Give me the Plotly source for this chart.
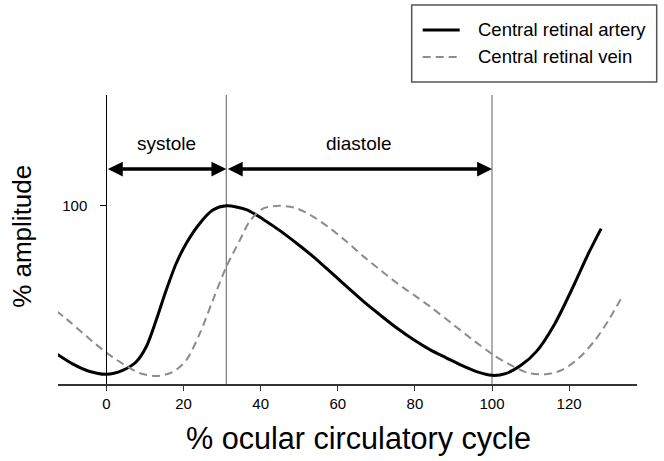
import plotly.graph_objects as go

# ---- data ----
artery_x = [-13, -8.9, -4.5, 0, 4.2, 7.7, 10.3, 12.9, 15.5, 18.1, 20.7, 24.2, 27.6, 31.1,
            36.3, 40.7, 45, 49.4, 53.7, 58.1, 62.4, 66.8, 71.1, 75.5, 80, 84, 88, 92, 96,
            100, 103.5, 107.5, 111.5, 116.3, 120.6, 125, 128.3]
artery_y = [12.8, 6.9, 2.4, 0.6, 3, 7.9, 16.7, 32.5, 50.2, 66, 77.8, 89.6, 97.5, 100,
            97.8, 92, 85.4, 77.8, 69.9, 61, 52.2, 43.3, 35.4, 27.6, 20.5, 15, 10.5, 6, 2.2,
            0, 1, 5.9, 14, 30.5, 50.2, 71.9, 86.6]

vein_x = [-13, -8.9, -4.5, 0, 4.2, 8.5, 12.9, 17.2, 20.7, 24.2, 27.6, 31.1, 34.6, 37.2,
          40.7, 45, 49.4, 53.7, 58.1, 62.4, 66.8, 71.1, 75.5, 79.8, 84.1, 90.2, 94.6,
          100.5, 105, 109.4, 113.7, 118, 122.4, 126.7, 130.2, 133.7]
vein_y = [38, 30.5, 21.7, 13.4, 6.9, 1.4, -0.4, 2, 8.9, 24.6, 44.3, 64, 79.7, 91,
          98.5, 100, 98.5, 93.5, 86.6, 78.7, 69.9, 62, 54.2, 47.3, 40.3, 29.5, 21.7,
          11.8, 5.9, 1.4, 0.6, 3, 9.9, 20.7, 32.5, 46.2]

series_names = ["Central retinal artery", "Central retinal vein"]
phase_bounds = [0, 31.1, 100]          # start of systole, end of systole, end of diastole
phase_labels = ["systole", "diastole"]
x_ticks = [0, 20, 40, 60, 80, 100, 120]
y_ticks = [100]
x_title = "% ocular circulatory cycle"
y_title = "% amplitude"

x_range = [-12.55, 137.6]
y_range = [-5.1, 165.4]
arrow_y = 121.7
label_y = 137

FONT = "Arial, Liberation Sans, sans-serif"
ARTERY_LINE = dict(color="black", width=3)
VEIN_LINE = dict(color="#8c8c8c", width=2, dash="8px,5px")

# plot-area geometry in pixels (used only to place legend box and titles)
W, H = 664, 461
ML, MR, MT, MB = 58.3, 26.7, 95, 77.3
PW, PH = W - ML - MR, H - MT - MB


def px(xp):
    return (xp - ML) / PW


def py(yp):
    return (H - MB - yp) / PH


fig = go.Figure()
fig.add_trace(go.Scatter(x=artery_x, y=artery_y, mode="lines", name=series_names[0],
                         line=dict(**ARTERY_LINE, shape="spline", smoothing=0.8)))
fig.add_trace(go.Scatter(x=vein_x, y=vein_y, mode="lines", name=series_names[1],
                         line=dict(**VEIN_LINE, shape="spline", smoothing=0.8)))

# gray phase boundary lines
for xb in phase_bounds[1:]:
    fig.add_shape(type="line", x0=xb, x1=xb, y0=y_range[0], y1=y_range[1],
                  xref="x", yref="y", line=dict(color="#7a7a7a", width=1.2), layer="below")

# double-headed arrows and phase labels
for i, lab in enumerate(phase_labels):
    x0, x1 = phase_bounds[i], phase_bounds[i + 1]
    fig.add_annotation(x=x1, y=arrow_y, ax=x0, ay=arrow_y, xref="x", yref="y",
                       axref="x", ayref="y", text="", showarrow=True,
                       arrowhead=2, startarrowhead=2, arrowside="end+start",
                       arrowwidth=3.5, arrowsize=0.85, startarrowsize=0.85,
                       arrowcolor="black", standoff=0, startstandoff=0)
    fig.add_annotation(x=(x0 + x1) / 2, y=label_y, xref="x", yref="y", text=lab,
                       showarrow=False, font=dict(size=19, color="black", family=FONT))

# axis titles as free text
fig.add_annotation(x=px(22), y=py(236), xref="paper", yref="paper", text=y_title,
                   textangle=-90, showarrow=False, xanchor="center", yanchor="middle",
                   font=dict(size=26, color="black", family=FONT))
fig.add_annotation(x=px(358.5), y=py(438.3), xref="paper", yref="paper", text=x_title,
                   showarrow=False, xanchor="center", yanchor="middle",
                   font=dict(size=30.6, color="black", family=FONT))

# legend box (drawn by hand to match the reference layout)
fig.add_shape(type="rect", xref="paper", yref="paper", x0=px(412), x1=px(657),
              y0=py(82), y1=py(5), line=dict(color="#555555", width=1.5),
              fillcolor="white", layer="above")
for name, style, yrow in [(series_names[0], ARTERY_LINE, 30), (series_names[1], VEIN_LINE, 57)]:
    fig.add_shape(type="line", xref="paper", yref="paper", x0=px(423), x1=px(460),
                  y0=py(yrow), y1=py(yrow), line=style, layer="above")
    fig.add_annotation(x=px(476), y=py(yrow), xref="paper", yref="paper", text=name,
                       xanchor="left", yanchor="middle", showarrow=False,
                       font=dict(size=18.5, color="black", family=FONT))

fig.update_layout(
    width=W, height=H,
    margin=dict(l=ML, r=MR, t=MT, b=MB, autoexpand=False),
    paper_bgcolor="white", plot_bgcolor="white",
    font=dict(family=FONT, color="black"),
    showlegend=False,
    xaxis=dict(range=x_range, showgrid=False, zeroline=False, showline=True,
               linecolor="#333333", linewidth=1.5, ticks="outside", ticklen=5,
               tickwidth=1.2, tickcolor="#333333", tickvals=x_ticks, automargin=False,
               tickfont=dict(size=15, color="black", family=FONT)),
    yaxis=dict(range=y_range, showgrid=False, zeroline=False, showline=True,
               anchor="free", automargin=False,
               position=(0 - x_range[0]) / (x_range[1] - x_range[0]),
               linecolor="black", linewidth=1.3, ticks="outside", ticklen=6,
               tickwidth=1.2, tickcolor="black", tickvals=y_ticks,
               ticklabelstandoff=10,
               tickfont=dict(size=15, color="black", family=FONT)),
)

fig.write_html("out.html", config={"displayModeBar": False},
               post_script="document.body.style.margin='0';document.body.style.padding='0';")
